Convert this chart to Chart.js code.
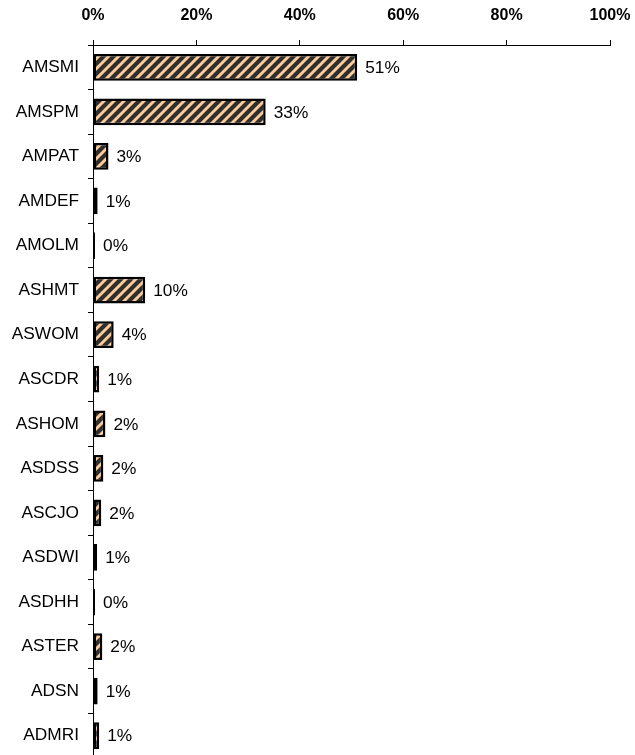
<!DOCTYPE html>
<html>
<head>
<meta charset="utf-8">
<script src="https://cdn.jsdelivr.net/npm/chart.js@4/dist/chart.umd.min.js"></script>
<style>
html,body{margin:0;padding:0;background:#fff;overflow:hidden;}
#wrap{width:635px;height:758px;position:relative;}
</style>
</head>
<body>
<div id="wrap"><canvas id="c" width="635" height="758"></canvas></div>
<script>
const categories = ["AMSMI","AMSPM","AMPAT","AMDEF","AMOLM","ASHMT","ASWOM","ASCDR","ASHOM","ASDSS","ASCJO","ASDWI","ASDHH","ASTER","ADSN","ADMRI"];
const values = [51.1, 33.4, 3.0, 0.9, 0.4, 10.1, 4.0, 1.2, 2.4, 2.0, 1.6, 0.8, 0.4, 1.8, 0.9, 1.2];
const xTicks = [0, 20, 40, 60, 80, 100];

function makeHatch() {
  const s = 10;
  const c = document.createElement('canvas');
  c.width = s; c.height = s;
  const g = c.getContext('2d');
  g.fillStyle = '#FFCC99';
  g.fillRect(0, 0, s, s);
  g.strokeStyle = '#2e2e2e';
  g.lineWidth = 4.2;
  g.lineCap = 'square';
  g.beginPath();
  g.moveTo(-s, 2*s); g.lineTo(2*s, -s);
  g.moveTo(-2*s, 2*s); g.lineTo(s, -s);
  g.moveTo(0, 2*s); g.lineTo(3*s, -s);
  g.stroke();
  return document.getElementById('c').getContext('2d').createPattern(c, 'repeat');
}

const valueLabels = {
  id: 'valueLabels',
  afterDatasetsDraw(chart) {
    const ctx = chart.ctx;
    const meta = chart.getDatasetMeta(0);
    ctx.save();
    ctx.font = '17.3px "Liberation Sans", Arial, sans-serif';
    ctx.fillStyle = '#000';
    ctx.textAlign = 'left';
    ctx.textBaseline = 'middle';
    meta.data.forEach((bar, i) => {
      ctx.fillText(Math.round(values[i]) + '%', bar.x + 8, bar.y + 1);
    });
    ctx.restore();
  }
};

new Chart(document.getElementById('c'), {
  type: 'bar',
  data: {
    labels: categories,
    datasets: [{
      data: values,
      backgroundColor: makeHatch(),
      borderColor: '#000',
      borderWidth: 2.5,
      borderSkipped: false,
      barPercentage: 0.6,
      categoryPercentage: 1
    }]
  },
  options: {
    indexAxis: 'y',
    responsive: false,
    animation: false,
    layout: { padding: { top: 0, right: 25, bottom: 0, left: 0 } },
    plugins: { legend: { display: false }, tooltip: { enabled: false } },
    scales: {
      x: {
        position: 'top',
        min: 0, max: 100,
        afterBuildTicks(scale) { scale.ticks = xTicks.map(v => ({ value: v })); },
        afterFit(scale) { scale.height = 45; scale.paddingLeft = 0; scale.paddingRight = 0; },
        ticks: {
          callback: v => v + '%',
          font: { family: '"Liberation Sans", Arial, sans-serif', size: 16, weight: 'bold' },
          color: '#000',
          padding: 15,
          maxRotation: 0
        },
        grid: { drawOnChartArea: false, drawTicks: true, tickLength: 5, tickColor: '#000', tickWidth: 1 },
        border: { display: true, color: '#000', width: 1 }
      },
      y: {
        afterFit(scale) { scale.width = 93; scale.paddingTop = 0; scale.paddingBottom = 0; },
        ticks: {
          font: { family: '"Liberation Sans", Arial, sans-serif', size: 17.3 },
          color: '#000',
          padding: 9
        },
        grid: { offset: true, drawOnChartArea: false, drawTicks: true, tickLength: 5, tickColor: '#000', tickWidth: 1 },
        border: { display: true, color: '#000', width: 1 }
      }
    }
  },
  plugins: [valueLabels]
});
</script>
</body>
</html>
